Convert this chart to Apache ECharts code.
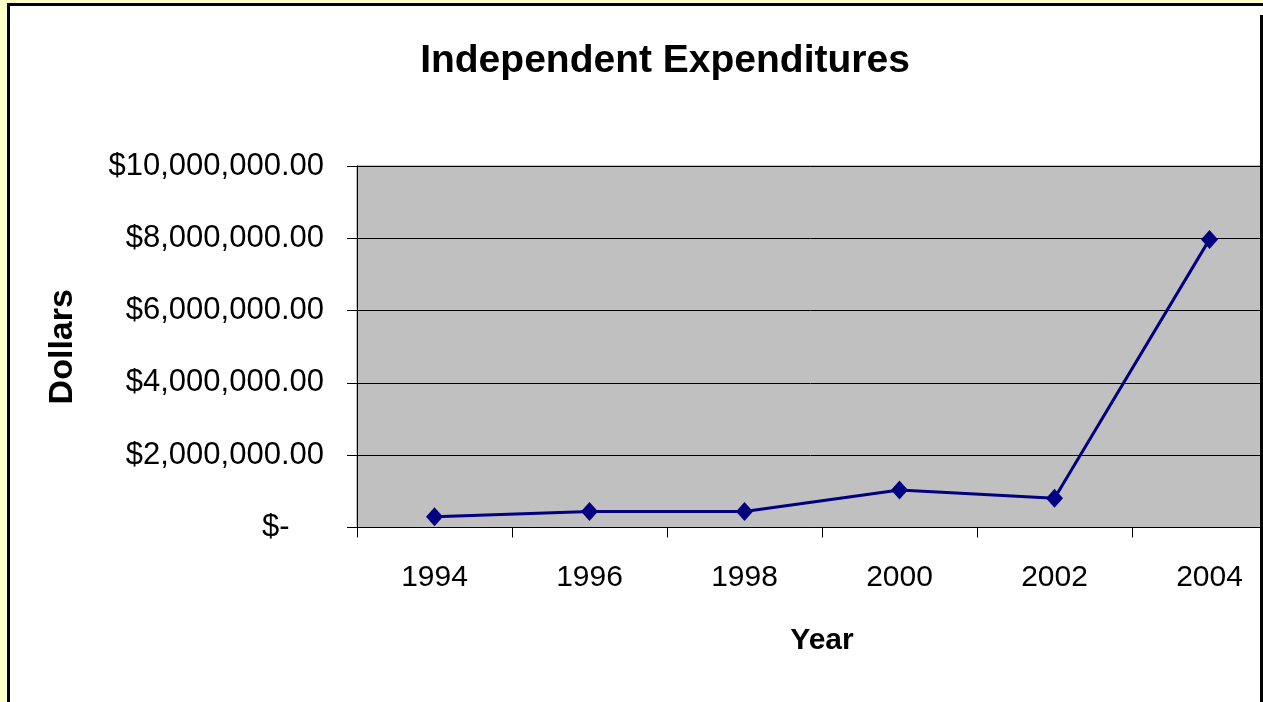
<!DOCTYPE html>
<html>
<head>
<meta charset="utf-8">
<script src="https://cdn.jsdelivr.net/npm/echarts@6/dist/echarts.min.js"></script>
<style>
  html, body { margin: 0; padding: 0; background: #FFFFCC; }
  #chart { width: 1263px; height: 702px; }
</style>
</head>
<body>
<div id="chart"></div>
<script>
  // data
  var years = ['1994', '1996', '1998', '2000', '2002', '2004'];
  var expenditures = [300000, 440000, 440000, 1040000, 810000, 7970000];
  var yMax = 10000000;
  var yStep = 2000000;

  function money(v) {
    if (v === 0) return '$-    ';
    var s = String(v).replace(/\B(?=(\d{3})+(?!\d))/g, ',');
    return '$' + s + '.00';
  }

  var chart = echarts.init(document.getElementById('chart'));
  var font = 'Liberation Sans, Arial, sans-serif';

  chart.setOption({
    backgroundColor: '#FFFFCC',
    animation: false,
    title: {
      text: 'Independent Expenditures',
      left: 660,
      top: 36,
      textAlign: 'center',
      textStyle: { fontFamily: font, fontSize: 39, fontWeight: 'bold', color: '#000', lineHeight: 40 }
    },
    graphic: [
      // white chart box with black border (cut by the window on right/bottom)
      {
        type: 'rect', z: -10, silent: true,
        shape: { x: 8.5, y: 4.5, width: 1400, height: 800 },
        style: { fill: '#fff', stroke: '#000', lineWidth: 3 }
      },
      {
        type: 'rect', z: 100, silent: true,
        shape: { x: 1260, y: 15, width: 3, height: 700 },
        style: { fill: '#000' }
      }
    ],
    grid: {
      left: 357, top: 166, width: 930, height: 361.5,
      outerBoundsMode: 'none',
      show: true, backgroundColor: '#C0C0C0', borderColor: '#808080', borderWidth: 1
    },
    xAxis: {
      type: 'category',
      data: years,
      boundaryGap: true,
      name: 'Year',
      nameLocation: 'middle',
      nameGap: 98,
      nameTextStyle: { fontFamily: font, fontSize: 30, fontWeight: 'bold', color: '#000' },
      axisLine: { show: true, lineStyle: { color: '#000', width: 1 } },
      axisTick: { show: true, length: 10, alignWithLabel: false, lineStyle: { color: '#000' } },
      axisLabel: { fontFamily: font, fontSize: 30, color: '#000', margin: 35, lineHeight: 30 },
      splitLine: { show: false }
    },
    yAxis: {
      type: 'value',
      min: 0, max: yMax, interval: yStep,
      name: 'Dollars',
      nameLocation: 'middle',
      nameGap: 277,
      nameRotate: 90,
      nameTextStyle: { fontFamily: font, fontSize: 34, fontWeight: 'bold', color: '#000' },
      axisLine: { show: true, lineStyle: { color: '#000', width: 1 } },
      axisTick: { show: true, length: 10, lineStyle: { color: '#000' } },
      axisLabel: { fontFamily: font, fontSize: 31, color: '#000', margin: 33, formatter: money },
      splitLine: { show: true, lineStyle: { color: '#000', width: 1 } }
    },
    series: [{
      type: 'line',
      data: expenditures,
      symbol: 'diamond',
      symbolSize: [17, 19],
      lineStyle: { color: '#000080', width: 3 },
      itemStyle: { color: '#000080' }
    }]
  });
</script>
</body>
</html>
